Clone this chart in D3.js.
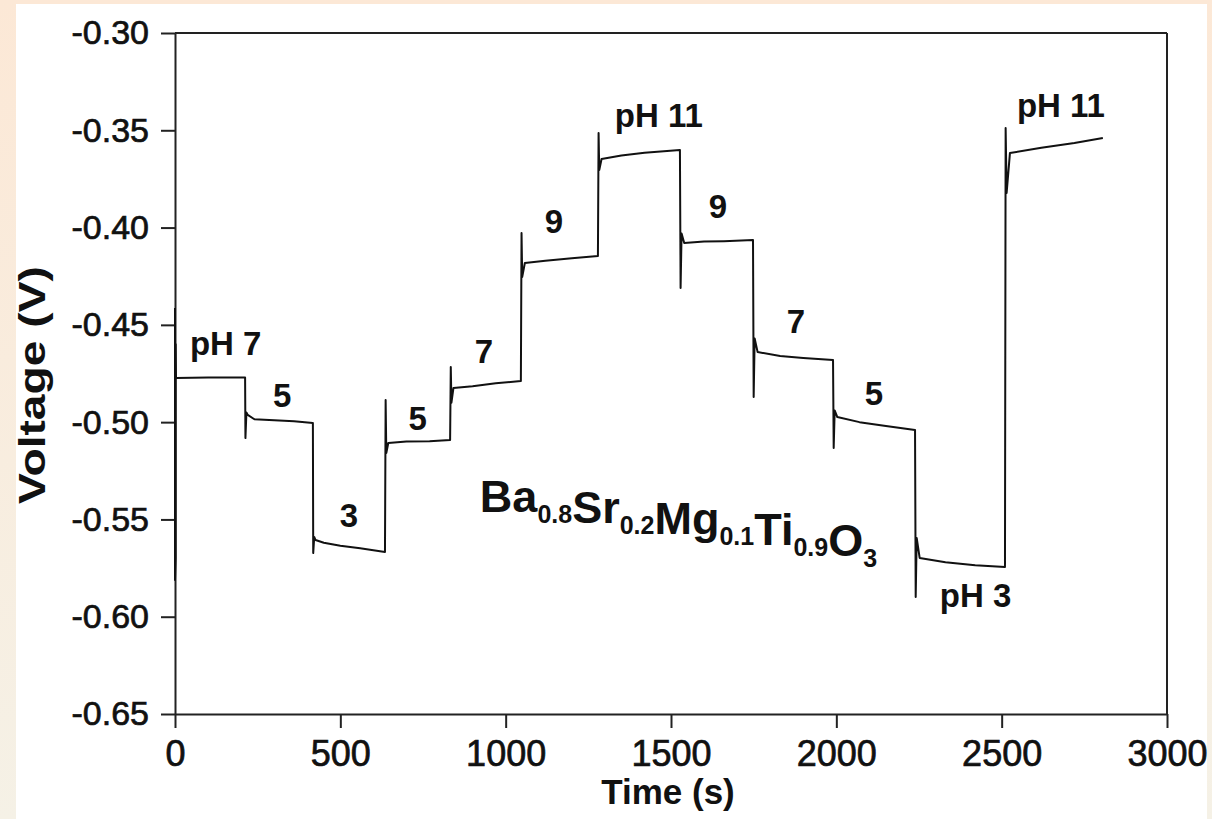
<!DOCTYPE html>
<html>
<head>
<meta charset="utf-8">
<script src="https://cdn.jsdelivr.net/npm/d3@7"></script>
<style>
  html, body { margin: 0; padding: 0; }
  body { width: 1212px; height: 819px; overflow: hidden; background: #f6f0e5; }
  svg { display: block; font-family: Arial, "Liberation Sans", sans-serif; }
  .axis path, .axis line { stroke: #222; stroke-width: 2; }
  .axis text { fill: #111; stroke: #111; stroke-width: 0.7; }
  .trace { fill: none; stroke: #111; stroke-width: 2; stroke-linejoin: round; }
  .label { fill: #111; font-weight: bold; }
</style>
</head>
<body>
<div id="chart"></div>
<script>
// time (s) and voltage (V) of the trace
const timeS = [
  0, 0, 2, 2, 3, 100, 212,
  213, 216, 220, 240, 300, 360, 417,
  418, 421, 425, 450, 500, 560, 635,
  637, 639, 645, 700, 770, 832,
  834, 836, 842, 900, 970, 1046,
  1048, 1050, 1058, 1120, 1200, 1279,
  1281, 1283, 1290, 1350, 1420, 1527,
  1529, 1532, 1540, 1600, 1660, 1748,
  1750, 1753, 1762, 1830, 1900, 1990,
  1992, 1995, 2003, 2070, 2150, 2238,
  2240, 2243, 2252, 2330, 2420, 2510,
  2512, 2515, 2525, 2620, 2720, 2806
]
const voltV = [
  -0.4413, -0.5811, -0.5700, -0.4600, -0.4773, -0.4770, -0.4770,
  -0.5082, -0.4950, -0.4963, -0.4985, -0.4990, -0.4995, -0.5004,
  -0.5673, -0.5590, -0.5606, -0.5620, -0.5635, -0.5648, -0.5667,
  -0.4886, -0.5159, -0.5107, -0.5100, -0.5098, -0.5092,
  -0.4717, -0.4900, -0.4825, -0.4815, -0.4800, -0.4789,
  -0.4028, -0.4254, -0.4182, -0.4170, -0.4158, -0.4146,
  -0.3514, -0.3704, -0.3648, -0.3630, -0.3615, -0.3601,
  -0.4311, -0.4030, -0.4079, -0.4072, -0.4070, -0.4064,
  -0.4871, -0.4570, -0.4640, -0.4660, -0.4670, -0.4681,
  -0.5133, -0.4940, -0.4974, -0.5000, -0.5020, -0.5040,
  -0.5899, -0.5595, -0.5698, -0.5720, -0.5735, -0.5744,
  -0.3488, -0.3822, -0.3617, -0.3590, -0.3565, -0.3540
]

// axis ticks
const xTicks = [0, 500, 1000, 1500, 2000, 2500, 3000]
const yTicks = [-0.30, -0.35, -0.40, -0.45, -0.50, -0.55, -0.60, -0.65]

// pH annotations: text, time, voltage, anchor
const labelText = ['pH 7', '5', '3', '5', '7', '9', 'pH 11', '9', '7', '5', 'pH 3', 'pH 11']
const labelT = [45, 324, 526, 734, 934, 1146, 1330, 1642, 1878, 2114, 2313, 2546]
const labelV = [-0.4655, -0.4922, -0.5539, -0.5040, -0.4696, -0.4028, -0.3483, -0.3951, -0.4542, -0.4912, -0.5950, -0.3432]
const labelAnchor = ['start', 'middle', 'middle', 'middle', 'middle', 'middle', 'start', 'middle', 'middle', 'middle', 'start', 'start']

// compound name, split into element / subscript parts
const formulaParts = [['Ba', '0.8'], ['Sr', '0.2'], ['Mg', '0.1'], ['Ti', '0.9'], ['O', '3']]
const formulaAt = {t: 922, v: -0.5462}

const width = 1212
const height = 819
const margin = {top: 33, right: 45, bottom: 105, left: 175}

const svg = d3.select('#chart').append('svg')
  .attr('width', width)
  .attr('height', height)

// page background and white panel
const grad = svg.append('defs').append('linearGradient')
  .attr('id', 'bg')
  .attr('x1', 0).attr('y1', 0).attr('x2', 0).attr('y2', 1)
grad.append('stop').attr('offset', '0%').attr('stop-color', '#fce8d6')
grad.append('stop').attr('offset', '100%').attr('stop-color', '#f5f1e6')
svg.append('rect')
  .attr('width', width).attr('height', height)
  .attr('fill', 'url(#bg)')
svg.append('rect')
  .attr('x', 16).attr('y', 4)
  .attr('width', 1191).attr('height', height - 4)
  .attr('fill', '#fff')

const innerW = width - margin.left - margin.right
const innerH = height - margin.top - margin.bottom

const g = svg.append('g')
  .attr('transform', 'translate(' + margin.left + ',' + margin.top + ')')

const x = d3.scaleLinear().domain([0, 3000]).range([0, innerW])
const y = d3.scaleLinear().domain([-0.65, -0.30]).range([innerH, 0])

// frame top and right
g.append('line')
  .attr('x1', 0).attr('x2', innerW).attr('y1', 0).attr('y2', 0)
  .attr('stroke', '#222').attr('stroke-width', 2)
g.append('line')
  .attr('x1', innerW).attr('x2', innerW).attr('y1', 0).attr('y2', innerH)
  .attr('stroke', '#222').attr('stroke-width', 2)

// axes
g.append('g')
  .attr('class', 'axis')
  .attr('transform', 'translate(0,' + innerH + ')')
  .call(d3.axisBottom(x).tickValues(xTicks).tickFormat(d3.format('d'))
    .tickSize(14).tickSizeOuter(0).tickPadding(12))
  .call(a => a.selectAll('text').attr('font-size', 36))

g.append('g')
  .attr('class', 'axis')
  .call(d3.axisLeft(y).tickValues(yTicks).tickFormat(d3.format('.2f'))
    .tickSize(14).tickSizeOuter(0).tickPadding(12))
  .call(a => a.selectAll('text').attr('font-size', 34).text(d => d3.format('.2f')(d).replace('−', '-')))

// axis titles
svg.append('text')
  .attr('x', 668).attr('y', 804)
  .attr('text-anchor', 'middle')
  .attr('font-size', 35).attr('font-weight', 'bold').attr('fill', '#111')
  .text('Time (s)')

svg.append('text')
  .attr('transform', 'translate(45,' + 385 + ') rotate(-90)')
  .attr('text-anchor', 'middle')
  .attr('font-size', 37).attr('font-weight', 'bold').attr('fill', '#111')
  .attr('textLength', 238).attr('lengthAdjust', 'spacingAndGlyphs')
  .text('Voltage (V)')

// voltage trace
const points = timeS.map((t, i) => [t, voltV[i]])
g.append('path')
  .datum(points)
  .attr('class', 'trace')
  .attr('d', d3.line().x(d => x(d[0])).y(d => y(d[1])))

// pH labels
g.selectAll('.label')
  .data(labelText)
  .join('text')
  .attr('class', 'label')
  .attr('x', (d, i) => x(labelT[i]))
  .attr('y', (d, i) => y(labelV[i]))
  .attr('text-anchor', (d, i) => labelAnchor[i])
  .attr('font-size', 33)
  .text(d => d)

// compound formula with subscripts
const formula = g.append('text')
  .attr('x', x(formulaAt.t))
  .attr('y', y(formulaAt.v))
  .attr('font-weight', 'bold')
  .attr('fill', '#111')
formulaParts.forEach(p => {
  formula.append('tspan').attr('font-size', 45).text(p[0])
  formula.append('tspan').attr('font-size', 25).attr('dy', 11).text(p[1])
  formula.append('tspan').attr('font-size', 25).attr('dy', -11).text('')
})
</script>
</body>
</html>
